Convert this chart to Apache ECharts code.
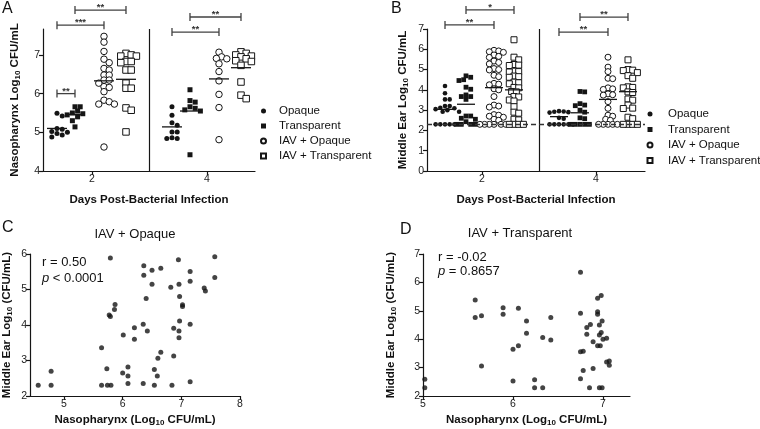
<!DOCTYPE html>
<html><head><meta charset="utf-8">
<script src="https://cdn.jsdelivr.net/npm/echarts@6/dist/echarts.min.js"></script>
<style>html,body{margin:0;padding:0;background:#fff}#c{width:760px;height:429px}</style>
</head><body><div id="c"></div>
<script>
const FONT = '"Liberation Sans", Arial, sans-serif';
const groupNames = ['Opaque', 'Transparent', 'IAV + Opaque', 'IAV + Transparent'];
const dayTicks = [2, 4];
const nasoTicks = [4, 5, 6, 7];
const earTicks = [0, 1, 2, 3, 4, 5, 6, 7];
const corrXTicksC = [5, 6, 7, 8];
const corrXTicksD = [5, 6, 7];
const corrYTicksC = [2, 3, 4, 5, 6];
const corrYTicksD = [2, 3, 4, 5, 6, 7];
const separatorDay = 3;
const detectionLimit = 2.3;

// Panel A: nasopharynx (log10 CFU/mL)
const naso_d2_opaque = [5.49, 5.42, 5.1, 5.08, 5.02, 5.0, 4.97, 4.93, 4.88];
const naso_d2_transp = [5.66, 5.66, 5.55, 5.5, 5.48, 5.45, 5.4, 5.3, 5.14];
const naso_d2_iavOpaque = [7.48, 7.33, 7.09, 6.89, 6.80, 6.65, 6.61, 6.48, 6.48, 6.35, 6.35, 6.27, 6.18, 6.16, 6.05, 5.83, 5.79, 5.73, 5.73, 4.62];
const naso_d2_iavTransp = [7.04, 7.0, 6.97, 6.97, 6.83, 6.83, 6.80, 6.61, 6.61, 6.27, 6.14, 6.14, 5.63, 5.57, 5.01];
const naso_d4_opaque = [5.66, 5.44, 5.25, 5.18, 5.01, 5.01, 4.86, 4.84, 4.84];
const naso_d4_transp = [6.1, 5.82, 5.78, 5.66, 5.62, 5.58, 5.55, 4.42];
const naso_d4_iavOpaque = [7.07, 6.95, 6.91, 6.9, 6.77, 6.57, 6.33, 5.98, 5.64, 4.81];
const naso_d4_iavTransp = [7.08, 7.04, 7.0, 6.97, 6.95, 6.9, 6.85, 6.83, 6.73, 6.3, 5.96, 5.87];
const naso_d2_medians = [5.10, 5.46, 6.33, 6.37];
const naso_d4_medians = [5.14, 5.55, 6.38, 6.67];

// Panel B: middle ear (log10 CFU/mL)
const ear_d2_opaque = [4.19, 3.83, 3.53, 3.53, 3.2, 3.2, 3.12, 3.09, 3.05, 3.0, 2.92, 2.92, 2.3, 2.3, 2.3, 2.3, 2.3];
const ear_d2_transp = [4.69, 4.62, 4.5, 4.46, 4.13, 4.03, 3.75, 3.67, 3.67, 3.53, 2.71, 2.71, 2.6, 2.55, 2.43, 2.3, 2.3, 2.3, 2.3, 2.3];
const ear_d2_iavOpaque = [5.95, 5.92, 5.88, 5.85, 5.72, 5.65, 5.6, 5.42, 5.35, 5.28, 5.05, 5.0, 4.98, 4.72, 4.65, 4.32, 4.28, 4.25, 4.05, 4.0, 3.67, 3.25, 3.2, 3.15, 2.78, 2.75, 2.7, 2.65, 2.55, 2.5, 2.3, 2.3, 2.3, 2.3, 2.3, 2.3];
const ear_d2_iavTransp = [6.47, 5.61, 5.48, 5.25, 5.22, 5.2, 4.92, 4.9, 4.88, 4.68, 4.65, 4.62, 4.38, 4.35, 4.3, 4.12, 4.1, 3.92, 3.9, 3.67, 3.65, 3.5, 3.45, 3.17, 2.9, 2.85, 2.55, 2.52, 2.3, 2.3, 2.3, 2.3];
const ear_d4_opaque = [2.95, 2.93, 2.92, 2.9, 2.88, 2.62, 2.58, 2.3, 2.3, 2.3, 2.3, 2.3, 2.3];
const ear_d4_transp = [3.92, 3.9, 3.32, 3.25, 3.22, 3.0, 2.9, 2.62, 2.58, 2.3, 2.3, 2.3, 2.3, 2.3];
const ear_d4_iavOpaque = [5.61, 5.12, 4.9, 4.57, 4.55, 4.1, 4.05, 4.02, 3.8, 3.76, 3.74, 3.42, 3.09, 2.75, 2.7, 2.55, 2.5, 2.3, 2.3, 2.3, 2.3, 2.3];
const ear_d4_iavTransp = [5.48, 5.0, 4.97, 4.95, 4.85, 4.7, 4.57, 4.15, 4.12, 4.1, 3.9, 3.87, 3.55, 3.49, 3.25, 3.1, 3.08, 2.65, 2.58, 2.3, 2.3, 2.3, 2.3];
const ear_d2_medians = [3.04, 3.29, 4.11, 4.0];
const ear_d4_medians = [2.68, 2.87, 3.53, 3.91];

// Significance brackets: [day, fromGroup, toGroup, value level]
const nasoBrackets = [[2, 0, 1, 6.0], [2, 0, 2, 7.77], [2, 1, 3, 8.16], [4, 0, 2, 7.59], [4, 1, 3, 7.98]];
const nasoBracketLabels = ['**', '***', '**', '**', '**'];
const earBrackets = [[2, 0, 2, 7.2], [2, 1, 3, 7.94], [4, 0, 2, 6.85], [4, 1, 3, 7.59]];
const earBracketLabels = ['**', '*', '**', '**'];

// Panel C: IAV + Opaque correlation
const cNaso = [4.56, 4.78, 4.78, 5.64, 5.74, 5.80, 5.64, 5.73, 5.79, 5.77, 5.79, 5.87, 5.86, 6.01, 6.0, 6.09, 6.09, 6.09, 6.20, 6.20, 6.35, 6.35, 6.36, 6.36, 6.40, 6.42, 6.50, 6.50, 6.54, 6.54, 6.59, 6.60, 6.65, 6.65, 6.82, 6.84, 6.87, 6.87, 6.95, 6.96, 6.97, 6.97, 6.96, 6.96, 7.02, 7.02, 7.15, 7.15, 7.15, 7.15, 7.39, 7.41, 7.57, 7.57];
const cEar = [2.30, 2.30, 2.70, 2.30, 2.30, 2.30, 3.36, 2.77, 5.89, 4.28, 4.24, 4.58, 4.44, 3.72, 2.65, 2.82, 2.56, 2.35, 3.92, 3.60, 2.35, 4.02, 5.40, 5.67, 4.75, 3.83, 5.54, 5.15, 2.75, 2.30, 2.56, 3.06, 3.23, 5.60, 5.06, 2.30, 3.91, 3.13, 5.84, 5.15, 4.80, 4.11, 3.83, 3.64, 4.57, 4.52, 5.51, 5.23, 4.02, 2.40, 5.04, 4.96, 5.92, 5.34];
// Panel D: IAV + Transparent correlation
const dNaso = [5.02, 5.02, 5.58, 5.58, 5.65, 5.65, 5.89, 5.89, 6.06, 6.15, 6.15, 6.0, 6.06, 6.0, 6.24, 6.24, 6.33, 6.33, 6.42, 6.42, 6.75, 6.75, 6.75, 6.78, 6.75, 6.78, 6.85, 6.96, 6.99, 6.89, 6.82, 6.82, 6.86, 6.89, 6.94, 6.98, 6.94, 6.94, 6.96, 6.99, 6.98, 6.96, 7.0, 7.04, 6.94, 6.97, 7.04, 7.07, 7.07];
const dEar = [2.59, 2.29, 5.38, 4.76, 4.83, 3.06, 5.11, 4.88, 5.09, 4.64, 4.21, 3.65, 3.77, 2.53, 2.57, 2.29, 2.29, 4.06, 3.97, 4.76, 6.36, 4.91, 3.56, 3.58, 2.61, 2.90, 2.29, 2.29, 2.29, 2.97, 4.17, 4.41, 4.52, 3.91, 5.44, 5.54, 4.97, 4.88, 4.50, 4.64, 4.24, 4.15, 4.0, 4.03, 3.77, 3.77, 3.20, 3.23, 3.08];

// ---------- layout ----------
const INK = '#151515';
const L = {
  A: { grid: { left: 43, top: 29, width: 212, height: 142 }, x: [1.148, 4.835], y: [4, 7.67], offs: [-35, -17, 12, 34], diam: 5.2, hw: 10, sizes: [5, 5, 6.5, 6.5] },
  B: { grid: { left: 427, top: 29, width: 218, height: 142 }, x: [1.035, 4.86], y: [0, 7], offs: [-37, -16, 12, 32], diam: 4.7, hw: 9, sizes: [4.6, 4.8, 6, 6] }
};
const SYM = [
  { symbol: 'circle', fill: INK, border: INK, bw: 0 },
  { symbol: 'rect', fill: INK, border: INK, bw: 0 },
  { symbol: 'circle', fill: '#fff', border: INK, bw: 1 },
  { symbol: 'rect', fill: '#fff', border: INK, bw: 1 }
];

function swarm(vals, pxY, diam) {
  const step = diam / 2;
  const placed = [];
  const out = new Array(vals.length);
  const order = vals.map((v, i) => i).sort((a, b) => vals[b] - vals[a]);
  for (const i of order) {
    const y = vals[i] * pxY;
    let chosen = 0;
    for (let k = 0; k < 80; k++) {
      const m = Math.ceil(k / 2);
      const dx = k === 0 ? 0 : (k % 2 === 1 ? 1 : -1) * m * step;
      let ok = true;
      for (const p of placed) {
        const ddx = p[0] - dx, ddy = p[1] - y;
        if (ddx * ddx + ddy * ddy < diam * diam * 0.9) { ok = false; break; }
      }
      if (ok) { chosen = dx; break; }
    }
    placed.push([chosen, y]);
    out[i] = chosen;
  }
  return out;
}

function buildPanel(key, axisIdx, dataByDay, medByDay, brackets, bracketLabels, extraMarks) {
  const cfg = L[key];
  const pxX = cfg.grid.width / (cfg.x[1] - cfg.x[0]);
  const pxY = cfg.grid.height / (cfg.y[1] - cfg.y[0]);
  const out = [];
  groupNames.forEach((name, g) => {
    const pts = [];
    dayTicks.forEach((day, d) => {
      const vals = dataByDay[d][g];
      const offs = swarm(vals, pxY, cfg.diam);
      vals.forEach((v, i) => pts.push([day + (cfg.offs[g] + offs[i]) / pxX, v]));
    });
    const s = {
      type: 'scatter', name, xAxisIndex: axisIdx, yAxisIndex: axisIdx, data: pts,
      symbol: SYM[g].symbol, symbolSize: cfg.sizes[g], z: 4,
      itemStyle: { color: SYM[g].fill, borderColor: SYM[g].border, borderWidth: SYM[g].bw, opacity: 1 },
      emphasis: { disabled: true }
    };
    if (g === 0) {
      s.markLine = { silent: true, symbol: 'none', animation: false, label: { show: false }, data: extraMarks };
    }
    out.push(s);
  });
  const medData = [];
  dayTicks.forEach((day, d) => medByDay[d].forEach((m, g) => medData.push([day + cfg.offs[g] / pxX, m])));
  out.push({
    type: 'custom', xAxisIndex: axisIdx, yAxisIndex: axisIdx, data: medData, z: 5, silent: true,
    renderItem: (params, api) => {
      const p = api.coord([api.value(0), api.value(1)]);
      return { type: 'line', shape: { x1: p[0] - cfg.hw, y1: p[1], x2: p[0] + cfg.hw, y2: p[1] }, style: { stroke: INK, lineWidth: 1.3 } };
    }
  });
  const brData = brackets.map(b => [b[0] + cfg.offs[b[1]] / pxX, b[0] + cfg.offs[b[2]] / pxX, b[3]]);
  out.push({
    type: 'custom', xAxisIndex: axisIdx, yAxisIndex: axisIdx, data: brData, z: 5, clip: false, silent: true,
    renderItem: (params, api) => {
      const a = api.coord([api.value(0), api.value(2)]);
      const b = api.coord([api.value(1), api.value(2)]);
      const st = { stroke: '#404040', lineWidth: 1.3 };
      return {
        type: 'group', children: [
          { type: 'line', shape: { x1: a[0], y1: a[1], x2: b[0], y2: b[1] }, style: st },
          { type: 'line', shape: { x1: a[0], y1: a[1] - 4, x2: a[0], y2: a[1] + 4 }, style: st },
          { type: 'line', shape: { x1: b[0], y1: b[1] - 4, x2: b[0], y2: b[1] + 4 }, style: st },
          { type: 'text', style: { x: (a[0] + b[0]) / 2, y: a[1] - 2.5, text: bracketLabels[params.dataIndex], align: 'center', verticalAlign: 'middle', fill: '#333', font: 'bold 9.5px ' + FONT } }
        ]
      };
    }
  });
  return out;
}

const axisLineStyle = { color: INK, width: 1.2 };
const tickLabel = { fontSize: 10.5, color: '#222', fontFamily: FONT, margin: 3 };
const richName = {
  t: { fontSize: 11.5, fontWeight: 'bold', fontFamily: FONT, color: '#111', lineHeight: 14 },
  s: { fontSize: 8, fontWeight: 'bold', fontFamily: FONT, color: '#111', verticalAlign: 'bottom', lineHeight: 8 }
};
function sub(a, b) { return '{t|' + a + '}{s|10}{t|' + b + '}'; }

function axis(grid, min, max, ticks, name, gap) {
  return {
    type: 'value', gridIndex: grid, min, max, name, nameLocation: 'middle', nameGap: gap,
    nameTextStyle: { rich: richName },
    axisLine: { show: true, onZero: false, lineStyle: axisLineStyle },
    axisTick: { show: true, length: 4, customValues: ticks, lineStyle: axisLineStyle },
    axisLabel: { ...tickLabel, customValues: ticks },
    splitLine: { show: false }
  };
}

const sepMark = { xAxis: separatorDay, lineStyle: { color: INK, width: 1.2, type: 'solid' } };
const seriesA = buildPanel('A', 0,
  [[naso_d2_opaque, naso_d2_transp, naso_d2_iavOpaque, naso_d2_iavTransp],
   [naso_d4_opaque, naso_d4_transp, naso_d4_iavOpaque, naso_d4_iavTransp]],
  [naso_d2_medians, naso_d4_medians], nasoBrackets, nasoBracketLabels, [sepMark]);
const seriesB = buildPanel('B', 1,
  [[ear_d2_opaque, ear_d2_transp, ear_d2_iavOpaque, ear_d2_iavTransp],
   [ear_d4_opaque, ear_d4_transp, ear_d4_iavOpaque, ear_d4_iavTransp]],
  [ear_d2_medians, ear_d4_medians], earBrackets, earBracketLabels,
  [sepMark, { yAxis: detectionLimit, lineStyle: { color: '#333', width: 1.3, type: [5, 3] } }]);

const dotStyle = { color: INK };
const seriesCD = [
  { type: 'scatter', xAxisIndex: 2, yAxisIndex: 2, symbol: 'circle', symbolSize: 5, itemStyle: dotStyle, data: cNaso.map((x, i) => [x, cEar[i]]) },
  { type: 'scatter', xAxisIndex: 3, yAxisIndex: 3, symbol: 'circle', symbolSize: 5, itemStyle: dotStyle, data: dNaso.map((x, i) => [x, dEar[i]]) }
];

function legendAt(left, top, gap, textPad) {
  return {
    data: groupNames, orient: 'vertical', left, top, padding: 0, itemWidth: 5, itemHeight: 5, itemGap: gap,
    selectedMode: false, textStyle: { fontSize: 11.5, fontFamily: FONT, color: '#111', padding: [0, 0, 0, textPad] }
  };
}

function txt(x, y, text, size, align) {
  return { type: 'text', x, y, style: { text, font: size + 'px ' + FONT, fill: '#111', align: align || 'left', verticalAlign: 'middle' } };
}
const richP = { i: { fontStyle: 'italic', fontSize: 13, fontFamily: FONT, fill: '#111' }, n: { fontSize: 13, fontFamily: FONT, fill: '#111' } };

const option = {
  animation: false,
  backgroundColor: '#fff',
  textStyle: { fontFamily: FONT },
  grid: [
    { ...L.A.grid },
    { ...L.B.grid },
    { left: 29, top: 254, width: 211, height: 142 },
    { left: 423, top: 254, width: 207, height: 142 }
  ],
  xAxis: [
    axis(0, L.A.x[0], L.A.x[1], dayTicks, '{t|Days Post-Bacterial Infection}', 22),
    axis(1, L.B.x[0], L.B.x[1], dayTicks, '{t|Days Post-Bacterial Infection}', 22),
    axis(2, 4.42, 8, corrXTicksC, sub('Nasopharynx (Log', ' CFU/mL)'), 17),
    axis(3, 5, 7.3, corrXTicksD, sub('Nasopharynx (Log', ' CFU/mL)'), 17)
  ],
  yAxis: [
    axis(0, L.A.y[0], L.A.y[1], nasoTicks, sub('Nasopharynx Log', ' CFU/mL'), 21),
    axis(1, L.B.y[0], L.B.y[1], earTicks, sub('Middle Ear Log', ' CFU/mL'), 17),
    axis(2, 2, 6, corrYTicksC, sub('Middle Ear Log', ' (CFU/mL)'), 16),
    axis(3, 2, 7, corrYTicksD, sub('Middle Ear Log', ' (CFU/mL)'), 25)
  ],
  legend: [legendAt(260, 105, 3, 8), legendAt(646.5, 108, 3.5, 10.5)],
  series: [...seriesA, ...seriesB, ...seriesCD],
  graphic: [
    txt(2, 9, 'A', 16),
    txt(391, 9, 'B', 16),
    txt(2, 228, 'C', 16),
    txt(400, 230, 'D', 16),
    txt(135, 234, 'IAV + Opaque', 13, 'center'),
    txt(520, 233, 'IAV + Transparent', 13, 'center'),
    txt(42, 262, 'r = 0.50', 13),
    { type: 'text', x: 42, y: 278, style: { text: '{i|p}{n| < 0.0001}', rich: richP, verticalAlign: 'middle' } },
    txt(438, 257, 'r = -0.02', 13),
    { type: 'text', x: 438, y: 271, style: { text: '{i|p}{n| = 0.8657}', rich: richP, verticalAlign: 'middle' } }
  ]
};
const chart = echarts.init(document.getElementById('c'), null, { renderer: 'canvas' });
chart.setOption(option);
</script></body></html>
